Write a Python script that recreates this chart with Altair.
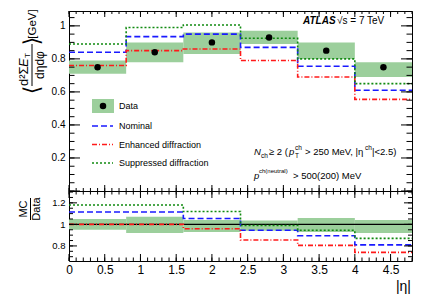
import altair as alt
import pandas as pd

# ---------------- data ----------------
bin_lo = [0.0, 0.8, 1.6, 2.4, 3.2, 4.0]
bin_hi = [0.8, 1.6, 2.4, 3.2, 4.0, 4.8]
bin_center = [0.4, 1.2, 2.0, 2.8, 3.6, 4.4]

data_val = [0.75, 0.84, 0.90, 0.93, 0.85, 0.75]
band_lo = [0.71, 0.78, 0.83, 0.89, 0.80, 0.69]
band_hi = [0.79, 0.90, 0.96, 0.97, 0.90, 0.78]
nominal = [0.84, 0.935, 0.95, 0.87, 0.755, 0.61]
enhanced = [0.76, 0.85, 0.86, 0.79, 0.69, 0.555]
suppressed = [0.89, 0.99, 1.005, 0.925, 0.80, 0.65]

ratio_band_lo = [0.95, 0.92, 0.93, 0.94, 0.93, 0.92]
ratio_band_hi = [1.05, 1.07, 1.04, 1.035, 1.06, 1.04]
ratio_nominal = [1.115, 1.115, 1.055, 0.945, 0.895, 0.81]
ratio_enhanced = [1.0, 1.0, 0.96, 0.855, 0.805, 0.74]
ratio_suppressed = [1.18, 1.18, 1.12, 0.99, 0.945, 0.87]
unity = [1.0]

series_names = ["Nominal", "Enhanced diffraction", "Suppressed diffraction"]

x_major = [0, 0.5, 1, 1.5, 2, 2.5, 3, 3.5, 4, 4.5]
x_minor = [round(0.1 * i, 1) for i in range(49)]
y1_major = [0, 0.2, 0.4, 0.6, 0.8, 1.0]
y1_minor = [round(0.05 * i, 2) for i in range(22)]
y1_labels = [0.2, 0.4, 0.6, 0.8, 1.0]
y2_major = [0.8, 1.0, 1.2]
y2_minor = [round(0.7 + 0.05 * i, 2) for i in range(13)]

# ---------------- style ----------------
FONT = "Liberation Sans"
BAND = "#9ccf9c"
COLORS = ["#1a1aff", "#ff1a1a", "#108a10"]
DASHES = [[6, 3], [5, 2, 1, 2], [2, 2]]
W, H1, H2 = 343, 180, 70

xs = alt.Scale(domain=[0, 4.8], nice=False, zero=False)
ys1 = alt.Scale(domain=[0, 1.09], nice=False, zero=False)
ys2 = alt.Scale(domain=[0.66, 1.31], nice=False, zero=False)

AX1 = alt.Axis(labels=False, ticks=False, domain=False, grid=False, title=None)
AY1 = alt.Axis(values=y1_labels, format="~g", ticks=False, domain=False, grid=False,
               title=None, labelFont=FONT, labelFontSize=10, labelPadding=4,
               labelColor="black", labelOverlap=False)
AX2 = alt.Axis(values=x_major, format="~g", ticks=False, domain=False, grid=False,
               title=None, labelFont=FONT, labelFontSize=12, labelPadding=3,
               labelColor="black", labelOverlap=False, labelFlush=False)
AY2 = alt.Axis(values=y2_major, format="~g", ticks=False, domain=False, grid=False,
               title=None, labelFont=FONT, labelFontSize=9.5, labelPadding=4,
               labelColor="black", labelOverlap=False)

one = pd.DataFrame({"k": [0]})


def txt(s, x, y, size=9, style="normal", weight="normal", align="left",
        baseline="alphabetic", angle=0, font=FONT):
    return alt.Chart(one).mark_text(
        text=s, fontSize=size, fontStyle=style, fontWeight=weight, align=align,
        baseline=baseline, angle=angle, font=font, color="black"
    ).encode(x=alt.value(x), y=alt.value(y))


def vline(x, y1, y2):
    return alt.Chart(one).mark_rule(color="black", strokeWidth=1).encode(
        x=alt.value(x), y=alt.value(y1), y2=alt.value(y2))


def step_df(values_list):
    rows = []
    for name, vals in zip(series_names, values_list):
        xs_ = bin_lo + [bin_hi[-1]]
        ys_ = vals + [vals[-1]]
        for i, (a, b) in enumerate(zip(xs_, ys_)):
            rows.append({"series": name, "x": a, "y": b, "o": i})
    return pd.DataFrame(rows)


def frame_ticks(yscale, H, AX, AY, xl, xsm, yl, ysm, y_major, y_minor):
    layers = []
    for vals, L in [(x_major, xl), (x_minor, xsm)]:
        d = pd.DataFrame({"x": vals})
        base = alt.Chart(d).mark_rule(color="black", strokeWidth=1)
        layers.append(base.encode(x=alt.X("x:Q", scale=xs, axis=AX),
                                  y=alt.value(H), y2=alt.value(H - L)))
        layers.append(base.encode(x=alt.X("x:Q", scale=xs, axis=AX),
                                  y=alt.value(0), y2=alt.value(L)))
    for vals, L in [(y_major, yl), (y_minor, ysm)]:
        d = pd.DataFrame({"y": vals})
        base = alt.Chart(d).mark_rule(color="black", strokeWidth=1)
        layers.append(base.encode(y=alt.Y("y:Q", scale=yscale, axis=AY),
                                  x=alt.value(0), x2=alt.value(L)))
        layers.append(base.encode(y=alt.Y("y:Q", scale=yscale, axis=AY),
                                  x=alt.value(W), x2=alt.value(W - L)))
    return layers


def step_layer(df, yscale, AX, AY):
    return alt.Chart(df).mark_line(interpolate="step-after", strokeWidth=1.6).encode(
        x=alt.X("x:Q", scale=xs, axis=AX),
        y=alt.Y("y:Q", scale=yscale, axis=AY),
        color=alt.Color("series:N", scale=alt.Scale(domain=series_names, range=COLORS), legend=None),
        strokeDash=alt.StrokeDash("series:N", scale=alt.Scale(domain=series_names, range=DASHES), legend=None),
        order="o:Q",
        detail="series:N",
    )


# ---------------- top panel ----------------
df_bins = pd.DataFrame({"lo": bin_lo, "hi": bin_hi, "c": bin_center, "d": data_val,
                        "blo": band_lo, "bhi": band_hi})

band1 = alt.Chart(df_bins).mark_rect(color=BAND).encode(
    x=alt.X("lo:Q", scale=xs, axis=AX1), x2="hi:Q",
    y=alt.Y("blo:Q", scale=ys1, axis=AY1), y2="bhi:Q")
lines1 = step_layer(step_df([nominal, enhanced, suppressed]), ys1, AX1, AY1)
pts1 = alt.Chart(df_bins).mark_circle(size=42, color="black", opacity=1).encode(
    x=alt.X("c:Q", scale=xs, axis=AX1), y=alt.Y("d:Q", scale=ys1, axis=AY1))

# legend (manual, ROOT style)
leg = [
    alt.Chart(one).mark_rect(color=BAND).encode(
        x=alt.value(23), x2=alt.value(45), y=alt.value(88), y2=alt.value(102)),
    alt.Chart(one).mark_circle(size=42, color="black", opacity=1).encode(
        x=alt.value(34), y=alt.value(95)),
]
for i, yy in enumerate([115, 133.5, 152]):
    leg.append(alt.Chart(one).mark_rule(color=COLORS[i], strokeDash=DASHES[i], strokeWidth=1.6).encode(
        x=alt.value(23), x2=alt.value(44), y=alt.value(yy)))
for lab, yy in zip(["Data"] + series_names, [95, 115, 133.5, 152]):
    leg.append(txt(lab, 50, yy, size=9, baseline="middle"))

# annotations (relative to plot origin)
ann = [
    txt("ATLAS", 234, 10, size=10, style="italic", weight="bold", baseline="middle"),
    txt("\u221As = 7 TeV", 268, 10, size=10, baseline="middle"),
]
b1 = 144
ann += [
    txt("N", 185, b1, size=9.5, style="italic"),
    txt("ch", 192, b1 + 2.5, size=6.5),
    txt("\u2265 2 (", 200, b1, size=9.5),
    txt("p", 220, b1, size=9.5, style="italic"),
    txt("ch", 226, b1 - 5, size=6.5),
    txt("T", 226, b1 + 3, size=6.5),
    txt("> 250 MeV, |\u03b7", 236, b1, size=9.5),
    txt("ch", 296, b1 - 5, size=6.5),
    txt("|<2.5)", 303, b1, size=9.5),
]
b2 = 168
ann += [
    txt("p", 185, b2, size=9.5, style="italic"),
    txt("ch(neutral)", 190, b2 - 6, size=6),
    txt("> 500(200) MeV", 224, b2, size=9.5),
]

# y-axis title of top panel (rotated, reading bottom to top)
ytitle = [
    txt("[GeV]", -36, 13, size=11.5, angle=270, align="center", baseline="middle"),
    txt("\u27e9", -37, 30, size=22, angle=270, align="center", baseline="middle", font="DejaVu Sans"),
    txt("d\u00b2\u03a3", -45, 75, size=13, angle=270, align="left", baseline="middle"),
    txt("E", -45, 56, size=13, angle=270, align="left", baseline="middle", style="italic"),
    txt("T", -41, 47, size=8, angle=270, align="left", baseline="middle"),
    vline(-37, 33, 75),
    txt("d\u03b7d\u03c6", -29, 54, size=12, angle=270, align="center", baseline="middle"),
    txt("\u27e8", -37, 79, size=22, angle=270, align="center", baseline="middle", font="DejaVu Sans"),
]

top = alt.layer(
    band1, lines1, pts1,
    *frame_ticks(ys1, H1, AX1, AY1, 6, 3, 11, 5.5, y1_major, y1_minor),
    *leg, *ann, *ytitle,
).properties(width=W, height=H1)

# ---------------- ratio panel ----------------
df_r = pd.DataFrame({"lo": bin_lo, "hi": bin_hi, "blo": ratio_band_lo, "bhi": ratio_band_hi})
band2 = alt.Chart(df_r).mark_rect(color=BAND).encode(
    x=alt.X("lo:Q", scale=xs, axis=AX2), x2="hi:Q",
    y=alt.Y("blo:Q", scale=ys2, axis=AY2), y2="bhi:Q")
one_line = alt.Chart(pd.DataFrame({"y": unity})).mark_rule(color="black", strokeWidth=1.3).encode(
    y=alt.Y("y:Q", scale=ys2, axis=AY2))
lines2 = step_layer(step_df([ratio_nominal, ratio_enhanced, ratio_suppressed]), ys2, AX2, AY2)

rtitle = [
    txt("MC", -45, 18, size=11, angle=270, align="center", baseline="middle"),
    vline(-38.5, 7, 29),
    txt("Data", -32, 18, size=11, angle=270, align="center", baseline="middle"),
    txt("|\u03b7|", 342, 100, size=14, align="right", baseline="alphabetic"),
]

bottom = alt.layer(
    band2, one_line, lines2,
    *frame_ticks(ys2, H2, AX2, AY2, 7, 3.5, 8, 4, y2_major, y2_minor),
    *rtitle,
).properties(width=W, height=H2)

chart = alt.vconcat(top, bottom, spacing=0, bounds="flush").properties(
    padding={"left": 9, "top": 0, "right": 5, "bottom": 0}
).configure_view(stroke="black", strokeWidth=1)

chart.save("out.html", embed_options={"renderer": "svg", "actions": False})
